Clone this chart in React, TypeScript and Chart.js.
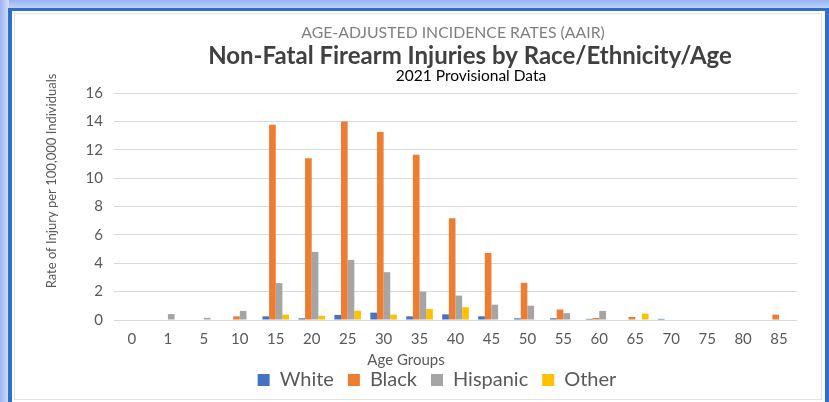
import React, { useEffect, useRef } from "react";
import { Chart, registerables } from "chart.js";

Chart.register(...registerables);

const ageGroups = ["0", "1", "5", "10", "15", "20", "25", "30", "35", "40", "45", "50", "55", "60", "65", "70", "75", "80", "85"];
const white = [0, 0, 0, 0, 0.26, 0.12, 0.36, 0.52, 0.26, 0.4, 0.26, 0.12, 0.12, 0.08, 0, 0.08, 0, 0, 0];
const black = [0, 0, 0, 0.26, 13.76, 11.4, 14.0, 13.25, 11.65, 7.17, 4.73, 2.62, 0.74, 0.14, 0.21, 0, 0, 0, 0.38];
const hispanic = [0, 0.42, 0.15, 0.64, 2.6, 4.8, 4.24, 3.37, 2.0, 1.72, 1.08, 1.01, 0.48, 0.64, 0, 0, 0, 0, 0];
const other = [0, 0, 0, 0, 0.38, 0.3, 0.66, 0.38, 0.78, 0.9, 0, 0, 0, 0, 0.45, 0, 0, 0, 0];
const yTicks = [0, 2, 4, 6, 8, 10, 12, 14, 16];

const headerLines = [
  "AGE-ADJUSTED INCIDENCE RATES (AAIR)",
  "Non-Fatal Firearm Injuries by Race/Ethnicity/Age",
  "2021 Provisional Data",
];
const xTitle = "Age Groups";
const yTitle = "Rate of Injury per 100,000 Individuals";

const FONT = "Lato, 'Open Sans', sans-serif";

const textPlugin = {
  id: "customText",
  afterDraw(chart: any) {
    const ctx = chart.ctx;
    ctx.save();
    ctx.textAlign = "center";
    ctx.textBaseline = "middle";
    ctx.fillStyle = "#808080";
    ctx.font = `15.8px ${FONT}`;
    ctx.fillText(headerLines[0], 453, 33);
    ctx.fillStyle = "#404040";
    ctx.font = `bold 24px ${FONT}`;
    ctx.fillText(headerLines[1], 470, 56);
    ctx.fillStyle = "#000000";
    ctx.font = `15.5px ${FONT}`;
    ctx.fillText(headerLines[2], 471, 76);
    ctx.fillStyle = "#595959";
    ctx.font = `15px ${FONT}`;
    ctx.fillText(xTitle, 406, 360);
    ctx.translate(52, 181);
    ctx.rotate(-Math.PI / 2);
    ctx.font = `13px ${FONT}`;
    ctx.fillText(yTitle, 0, 0);
    ctx.restore();
  },
};

export default function App() {
  const ref = useRef<HTMLCanvasElement>(null);
  useEffect(() => {
    const mk = (label: string, data: number[], color: string) => ({
      label,
      data,
      backgroundColor: color,
      borderWidth: 0,
      categoryPercentage: 0.74,
      barPercentage: 1,
    });
    const chart = new Chart(ref.current!, {
      type: "bar",
      data: {
        labels: ageGroups,
        datasets: [
          mk("White", white, "#4472c4"),
          mk("Black", black, "#ed7d31"),
          mk("Hispanic", hispanic, "#a5a5a5"),
          mk("Other", other, "#ffc000"),
        ],
      },
      options: {
        animation: false,
        responsive: false,
        layout: { padding: { top: 93, left: 77, right: 32, bottom: 2 } },
        plugins: {
          tooltip: { enabled: false },
          legend: {
            position: "bottom",
            labels: {
              font: { family: FONT, size: 20 },
              color: "#595959",
              boxWidth: 12,
              boxHeight: 12,
              padding: 14,
            },
          },
        },
        scales: {
          x: {
            grid: { display: false, drawTicks: false },
            border: { display: false },
            ticks: { font: { family: FONT, size: 15 }, color: "#595959", padding: 10, autoSkip: false, maxRotation: 0 },
            afterFit: (s: any) => {
              s.height = 36;
            },
          },
          y: {
            min: 0,
            max: 16,
            afterBuildTicks: (s: any) => {
              s.ticks = yTicks.map((v) => ({ value: v }));
            },
            grid: { color: "#d9d9d9", drawTicks: false, lineWidth: 1 },
            border: { display: false },
            ticks: { font: { family: FONT, size: 15 }, color: "#595959", padding: 11 },
            afterFit: (s: any) => {
              s.width = 37;
            },
          },
        },
      },
      plugins: [textPlugin],
    });
    return () => chart.destroy();
  }, []);

  return (
    <div style={{ position: "fixed", left: 0, top: 0, width: 829, height: 402, background: "#ffffff", overflow: "hidden" }}>
      <div style={{ position: "absolute", left: 0, top: 0, width: 829, height: 9, background: "linear-gradient(to bottom, #9ab4f2, #c4d5fa)" }} />
      <div style={{ position: "absolute", left: 0, top: 0, width: 9, height: 402, background: "linear-gradient(to right, #9ab4f2, #d4e0fc)" }} />
      <div
        style={{
          position: "absolute",
          left: 8,
          top: 8,
          width: 821,
          height: 400,
          boxSizing: "border-box",
          borderTop: "3px solid #2f6fc6",
          borderLeft: "4px solid #2f6fc6",
          borderRight: "4px solid #2f6fc6",
        }}
      />
      <div
        style={{
          position: "absolute",
          left: 14,
          top: 13,
          width: 808,
          height: 387,
          boxSizing: "border-box",
          border: "1px solid #e2e2e2",
        }}
      />
      <canvas ref={ref} width={829} height={402} style={{ position: "absolute", left: 0, top: 0, width: 829, height: 402 }} />
    </div>
  );
}
